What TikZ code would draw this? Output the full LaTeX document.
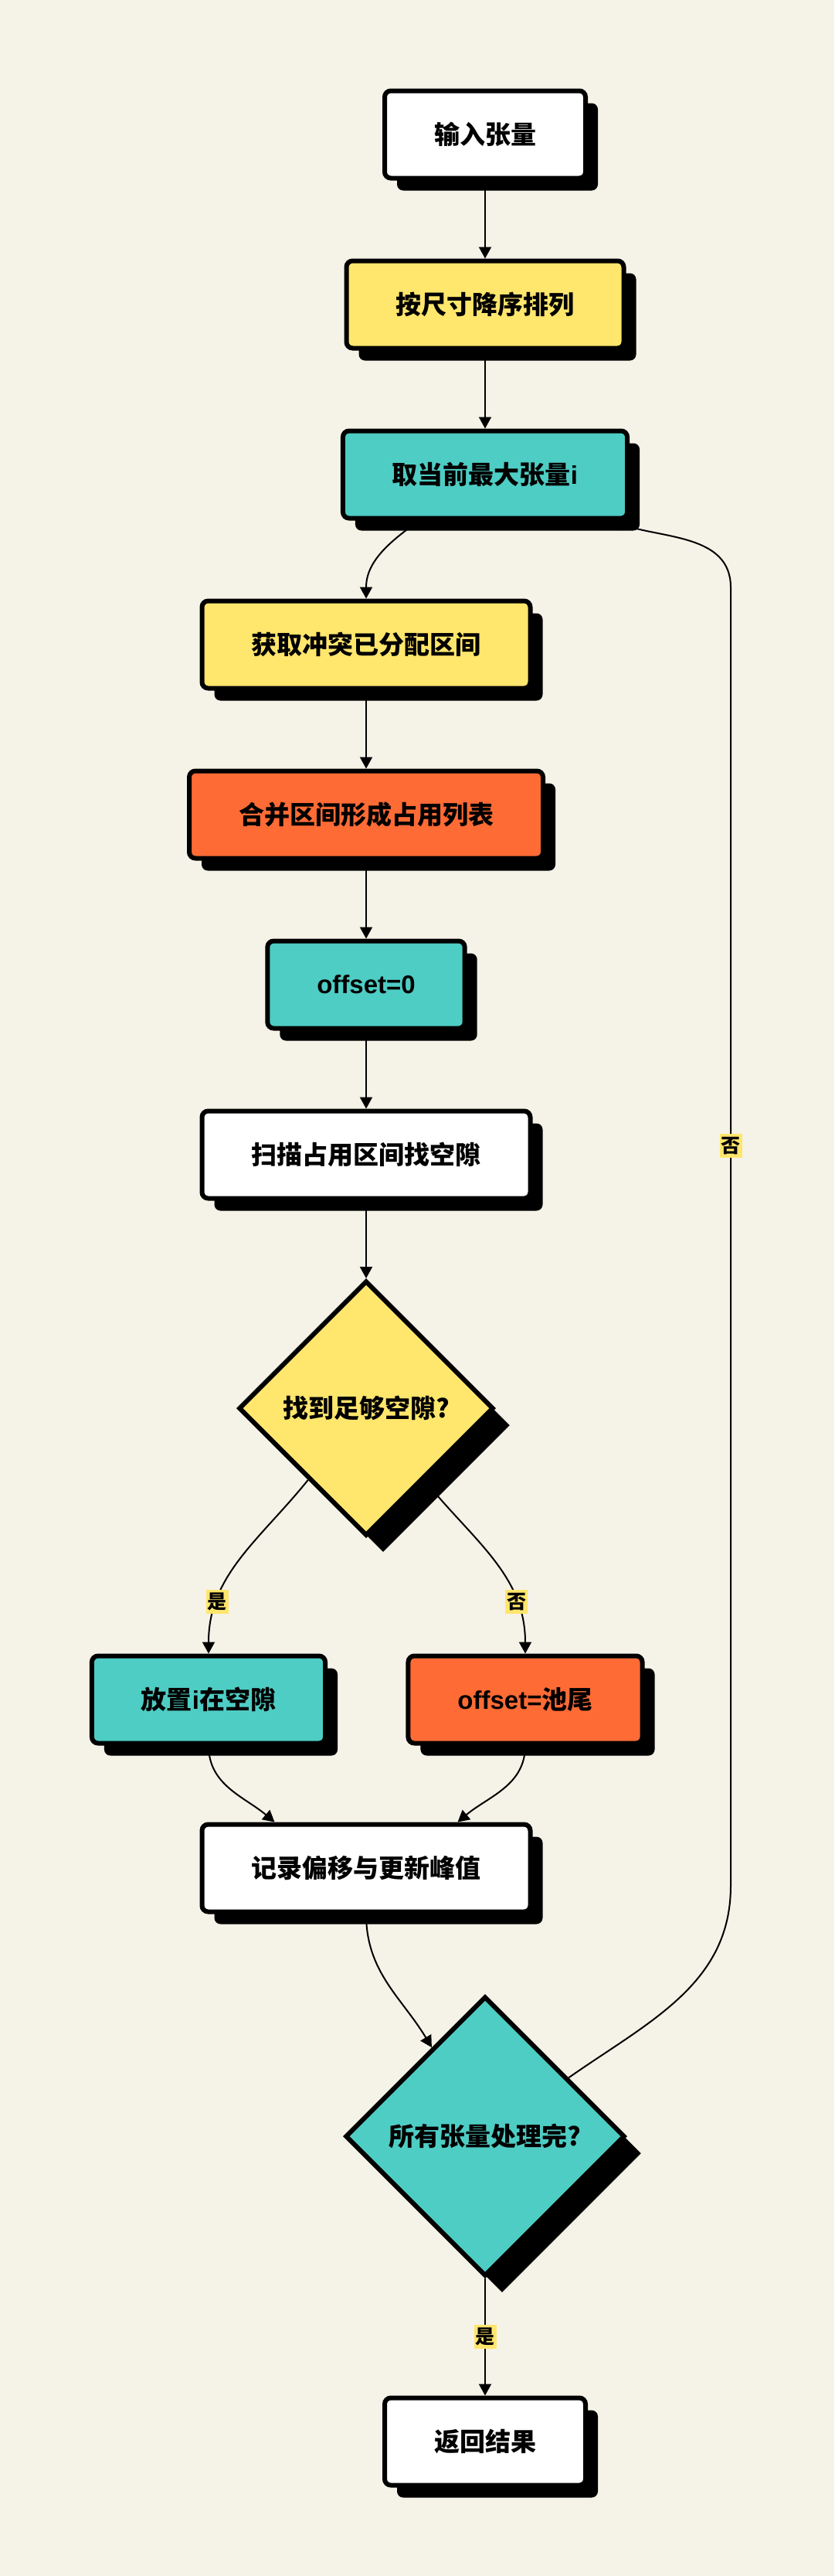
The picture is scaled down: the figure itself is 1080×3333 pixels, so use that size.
\documentclass[tikz,border=0pt]{standalone}
\usepackage{fontspec}
\setmainfont{Liberation Sans}
\newfontfamily\cjk{Noto Sans CJK SC}
\usetikzlibrary{arrows.meta,shapes.geometric,shadows}
\definecolor{paper}{HTML}{F5F2E7}
\definecolor{sunny}{HTML}{FFE66D}
\definecolor{aqua}{HTML}{4ECDC4}
\definecolor{tangerine}{HTML}{FF6B35}

\begin{document}
\begin{tikzpicture}[x=1pt,y=1pt,->,>={Triangle[length=15pt,width=16pt]},line width=2pt,
                    node distance=220pt,
                    main node/.style={rectangle,draw,rounded corners=8pt,line width=6pt,fill=white,
                      font=\bfseries\fontsize{33}{40}\selectfont,minimum height=113pt,inner xsep=64pt,
                      drop shadow={shadow xshift=16pt,shadow yshift=-16pt,opacity=1,fill=black}},
                    test node/.style={diamond,aspect=1,draw,line width=6pt,inner sep=0pt,
                      font=\bfseries\fontsize{33}{40}\selectfont,
                      drop shadow={shadow xshift=22pt,shadow yshift=-22pt,opacity=1,fill=black}},
                    tag/.style={fill=sunny,font=\bfseries\fontsize{25}{30}\selectfont,
                      inner xsep=2pt,inner ysep=4pt}]

  \fill[paper,-] (0,0) rectangle (1080,-3333);
  \useasboundingbox (0,0) rectangle (1080,-3333);

  \node[main node] (n1) at (628,-174) {\cjk 输入张量};
  \node[main node,fill=sunny] (n2) [below of=n1] {\cjk 按尺寸降序排列};
  \node[main node,fill=aqua] (n3) [below of=n2] {{\cjk 取当前最大张量}i};

  \node[main node,fill=sunny] (n4) [below of=n3,xshift=-154pt] {\cjk 获取冲突已分配区间};
  \node[main node,fill=tangerine] (n5) [below of=n4] {\cjk 合并区间形成占用列表};
  \node[main node,fill=aqua] (n6) [below of=n5] {offset=0};
  \node[main node] (n7) [below of=n6] {\cjk 扫描占用区间找空隙};
  \node[test node,fill=sunny,minimum size=330pt] (n8) [node distance=328pt,below of=n7] {\cjk 找到足够空隙?};

  \node[main node,fill=aqua] (n9) [node distance=377pt,below of=n8,xshift=-204pt] {{\cjk 放置}i{\cjk 在空隙}};
  \node[main node,fill=tangerine] (n10) [node distance=410pt,right of=n9] {offset={\cjk 池尾}};
  \node[main node] (n11) [node distance=218pt,below of=n9,xshift=204pt] {\cjk 记录偏移与更新峰值};

  \node[test node,fill=aqua,minimum size=362pt] (n12) [node distance=347pt,below of=n11,xshift=154pt] {\cjk 所有张量处理完?};
  \node[main node] (n13) [node distance=395pt,below of=n12] {\cjk 返回结果};

  % way back up on the right
  \coordinate (railbot) at (946,-2440);
  \coordinate (railtop) at (946,-760);

  \path[every node/.style={tag}]
	(n1) edge (n2)
	(n2) edge (n3)
	(n3) edge [out=-145,in=90] (n4)
	(n4) edge (n5)
	(n5) edge (n6)
	(n6) edge (n7)
	(n7) edge (n8)
	(n8) edge [out=-129,in=90] node[pos=0.75] {\cjk 是} (n9)
		edge [out=-51,in=90] node[pos=0.75] {\cjk 否} (n10)
	(n9) edge [out=-90,in=140] ([xshift=97pt]n11.north west)
	(n10) edge [out=-90,in=40] ([xshift=-97pt]n11.north east)
	(n11) edge [out=-90,in=121] (n12)
	(n12) edge node {\cjk 是} (n13);

  \draw (n12) to[out=35,in=-90] (railbot)
	-- node[tag,pos=0.57] {\cjk 否} (railtop)
	to[out=90,in=-20] (n3);

\end{tikzpicture}
\end{document}
